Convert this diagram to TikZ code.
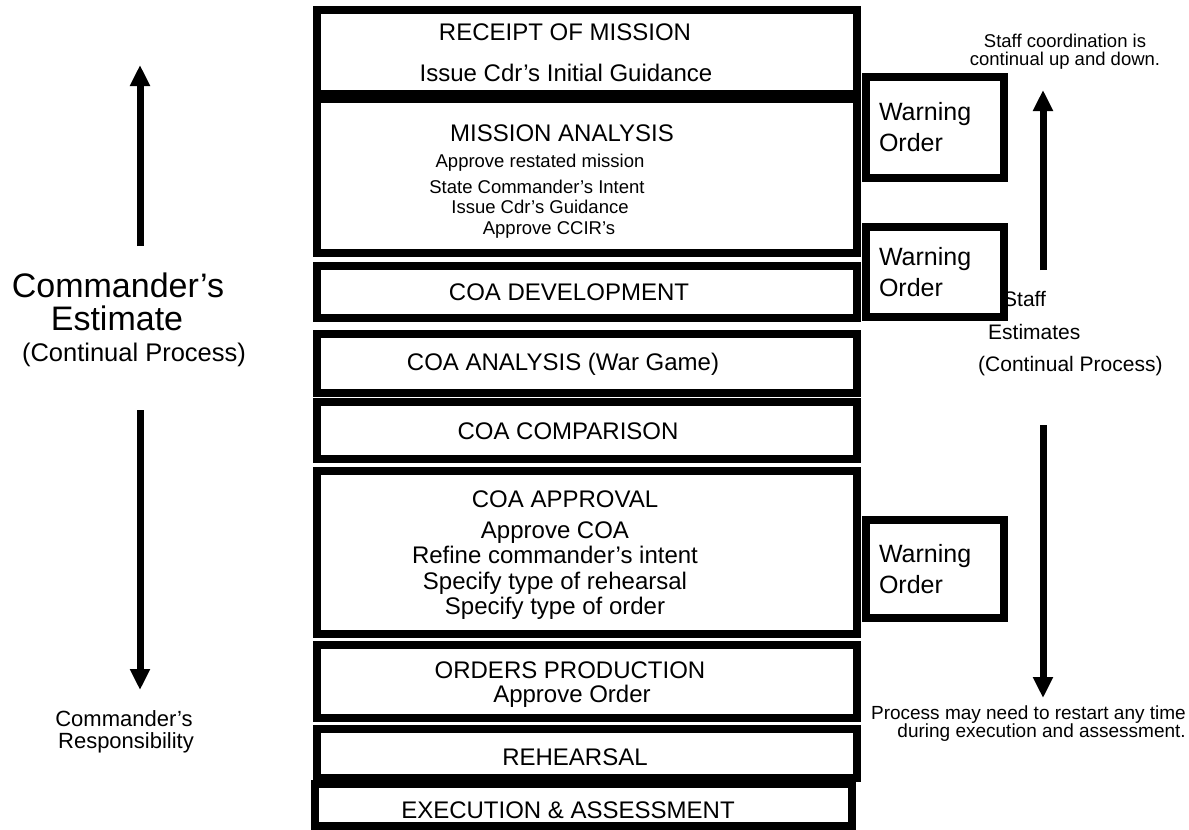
\documentclass[tikz,border=0pt]{standalone}
\usepackage{fontspec}
\setmainfont{Liberation Sans}
\usetikzlibrary{arrows.meta}
\newcommand\FHead{\fontsize{24}{25.5}\selectfont}
\newcommand\FSub{\fontsize{18.5}{20}\selectfont}
\newcommand\FBig{\fontsize{34}{33}\selectfont}
\newcommand\FMid{\fontsize{25.5}{26}\selectfont}
\newcommand\FSide{\fontsize{22}{22}\selectfont}
\newcommand\FNote{\fontsize{18.5}{18}\selectfont}
\newcommand\FRight{\fontsize{21}{22}\selectfont}
\begin{document}
\begin{tikzpicture}[x=1pt,y=-1pt,
  stage/.style={draw=black, line width=8pt, inner sep=0pt, outer sep=0pt, minimum width=540pt},
  warn/.style={draw=black, line width=8pt, inner sep=0pt, outer sep=0pt, minimum width=138pt,
     text width=112pt, align=left, font=\fontsize{25}{31}\selectfont},
  txt/.style={inner sep=0pt, anchor=base, font=\FHead},
  subtxt/.style={inner sep=0pt, anchor=base, font=\FSub},
  bigarrow/.style={line width=7pt, -{Triangle[width=19pt,length=21pt]}}]
\useasboundingbox (0,0) rectangle (1189,830);
\fill[white] (0,0) rectangle (1189,830);

% main stages
\node[stage, minimum height=84pt]  (receipt)  at (587,52) {};
\node[stage, minimum height=154pt] (mission)  at (587,176) {};
\node[stage, minimum height=52pt]  (coadev)   at (587,292) {};
\node[stage, minimum height=59pt]  (coaana)   at (587,363.5) {};
\node[stage, minimum height=57pt]  (coacmp)   at (587,430.5) {};
\node[stage, minimum height=163pt] (coaapp)   at (587,552.5) {};
\node[stage, minimum height=73pt]  (orders)   at (587,681.5) {};
\node[stage, minimum height=49pt]  (rehearse) at (587,753.5) {};
\node[stage, minimum height=42pt, minimum width=537pt] (exec) at (583.5,805) {};

% warning orders
\node[warn, minimum height=101pt] (wo1) at (935,127.5) {Warning\\Order};
\node[warn, minimum height=90pt]  (wo2) at (935,272) {Warning\\Order};
\node[warn, minimum height=98pt]  (wo3) at (935,569) {Warning\\Order};

% stage texts
\node[txt] (t1a) at (565,40) {RECEIPT OF MISSION};
\node[txt] (t1b) at (566,81) {Issue Cdr’s Initial Guidance};
\node[txt] (t2a) at (562,141.5) {MISSION ANALYSIS};
\node[subtxt] (t2b) at (540,167) {Approve restated mission};
\node[subtxt] (t2c) at (537,193) {State Commander’s Intent};
\node[subtxt] (t2d) at (540,213) {Issue Cdr’s Guidance};
\node[subtxt] (t2e) at (549,234) {Approve CCIR’s};
\node[txt] (t3) at (569,300.5) {COA DEVELOPMENT};
\node[txt] (t4) at (563,370.5) {COA ANALYSIS (War Game)};
\node[txt] (t5) at (568,439.5) {COA COMPARISON};
\node[txt] (t6a) at (565,507.5) {COA APPROVAL};
\node[inner sep=0pt, anchor=base, align=center, font=\fontsize{24}{25.5}\selectfont] (t6b) at (555,614.5)
  {Approve COA\\Refine commander’s intent\\Specify type of rehearsal\\Specify type of order};
\node[txt] (t7a) at (570,678.5) {ORDERS PRODUCTION};
\node[txt] (t7b) at (572,702.5) {Approve Order};
\node[txt] (t8) at (575,765) {REHEARSAL};
\node[txt] (t9) at (568,818.5) {EXECUTION \& ASSESSMENT};

% left side
\node[inner sep=0pt, anchor=base, font=\FBig] (ce1) at (118,297) {Commander’s};
\node[inner sep=0pt, anchor=base, font=\FBig] (ce2) at (117,330) {Estimate};
\node[inner sep=0pt, anchor=base, font=\FMid] (ce3) at (134,361) {(Continual Process)};
\node[inner sep=0pt, anchor=base, font=\FSide] (cr1) at (124,726) {Commander’s};
\node[inner sep=0pt, anchor=base, font=\FSide] (cr2) at (126,748) {Responsibility};

\coordinate (lu0) at (140,246);
\coordinate (lu1) at (140,65);
\coordinate (ld0) at (140,410);
\coordinate (ld1) at (140,690);
\draw[bigarrow] (lu0) -- (lu1);
\draw[bigarrow] (ld0) -- (ld1);

% right side
\node[inner sep=0pt, align=center, font=\FNote] (sc) at (1065,52) {Staff coordination is\\continual up and down.};
\node[inner sep=0pt, anchor=base west, font=\FRight] (se1) at (1003,306) {Staff};
\node[inner sep=0pt, anchor=base west, font=\FRight] (se2) at (988,339) {Estimates};
\node[inner sep=0pt, anchor=base west, font=\FRight] (se3) at (978,371) {(Continual Process)};

\coordinate (ru0) at (1043,270);
\coordinate (ru1) at (1043,90);
\coordinate (rd0) at (1043,425);
\coordinate (rd1) at (1043,698);
\draw[bigarrow] (ru0) -- (ru1);
\draw[bigarrow] (rd0) -- (rd1);

\node[inner sep=0pt, anchor=north east, align=right, font=\fontsize{19}{18}\selectfont] (proc) at (1186,706)
  {Process may need to restart any time\\during execution and assessment.};
\end{tikzpicture}
\end{document}
